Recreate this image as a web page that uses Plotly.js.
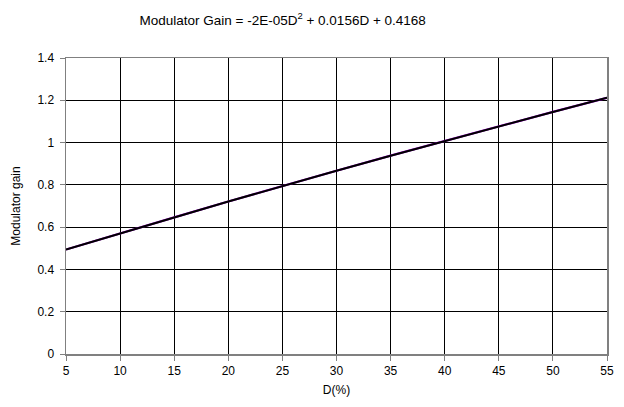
<!DOCTYPE html>
<html>
<head>
<meta charset="utf-8">
<script src="https://cdn.plot.ly/plotly-3.0.1.min.js"></script>
<style>html,body{margin:0;padding:0;background:#fff;}#chart{width:624px;height:407px;}</style>
</head>
<body>
<div id="chart"></div>
<script>
const dutyPct = [5, 10, 15, 20, 25, 30, 35, 40, 45, 50, 55];
const measuredGain = [0.494, 0.571, 0.646, 0.721, 0.795, 0.867, 0.938, 1.008, 1.077, 1.145, 1.212];
const trendGain = [0.494, 0.571, 0.646, 0.721, 0.795, 0.867, 0.938, 1.008, 1.077, 1.145, 1.212];
const xTicks = [5, 10, 15, 20, 25, 30, 35, 40, 45, 50, 55];
const yTicks = [0, 0.2, 0.4, 0.6, 0.8, 1, 1.2, 1.4];
const yTickText = ['0', '0.2', '0.4', '0.6', '0.8', '1', '1.2', '1.4'];

const font = {family: 'Liberation Sans, Arial, sans-serif', size: 12, color: '#000'};
const traces = [
  {x: dutyPct, y: measuredGain, mode: 'lines', line: {color: '#9900cc', width: 2.2}, hoverinfo: 'skip'},
  {x: dutyPct, y: trendGain, mode: 'lines', line: {color: '#000000', width: 2}, hoverinfo: 'skip'}
];
const layout = {
  width: 624, height: 407,
  margin: {l: 66, r: 17, t: 58, b: 53},
  paper_bgcolor: '#fff', plot_bgcolor: '#fff',
  showlegend: false,
  font: font,
  title: {text: 'Modulator Gain = -2E-05D<sup>2</sup> + 0.0156D + 0.4168', x: 0.453, xanchor: 'center', y: 0.95, yanchor: 'middle', font: {family: font.family, size: 13.5, color: '#000'}},
  xaxis: {
    range: [5, 55], tickvals: xTicks, ticktext: xTicks.map(String),
    showgrid: true, gridcolor: '#000', gridwidth: 1,
    showline: true, linecolor: '#808080', linewidth: 1.5, mirror: true,
    ticks: 'outside', ticklen: 5, tickcolor: '#808080',
    zeroline: false, tickfont: font,
    title: {text: 'D(%)', font: font, standoff: 8}
  },
  yaxis: {
    range: [0, 1.4], tickvals: yTicks, ticktext: yTickText,
    showgrid: true, gridcolor: '#000', gridwidth: 1,
    showline: true, linecolor: '#808080', linewidth: 1.5, mirror: true,
    ticks: 'outside', ticklen: 5, tickcolor: '#808080',
    ticklabelstandoff: 3,
    zeroline: false, tickfont: font,
    title: {text: 'Modulator gain', font: font, standoff: 14}
  }
};
Plotly.newPlot('chart', traces, layout, {staticPlot: true, displayModeBar: false});
</script>
</body>
</html>
